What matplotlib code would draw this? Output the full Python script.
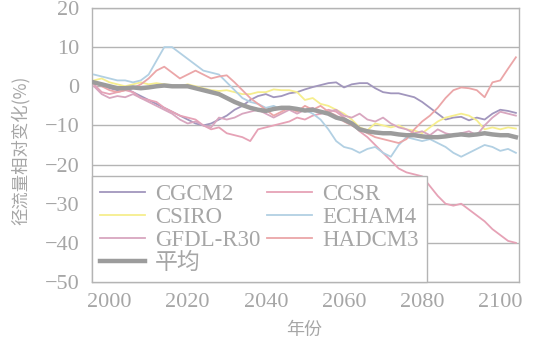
import matplotlib
matplotlib.use("Agg")
import matplotlib.pyplot as plt

plt.rcParams['font.family'] = ['Liberation Serif', 'Noto Sans CJK SC', 'DejaVu Sans']

years = list(range(1996, 2105, 2))

cgcm2 = [1.0, 0.5, -0.5, -1.0, -0.5, -1.5, -2.5, -3.5, -4.5, -5.5, -6.5, -7.5, -8.5, -9.5,
         -10.0, -9.5, -8.5, -7.5, -6.0, -5.0, -3.5, -2.5, -2.0, -2.8, -2.5, -1.8, -1.5, -0.8,
         -0.2, 0.3, 0.8, 1.0, -0.3, 0.5, 0.8, 0.8, -0.5, -1.5, -1.8, -1.8, -2.3, -2.8, -4.0,
         -5.5, -7.0, -8.5, -8.0, -7.8, -8.7, -8.0, -8.5, -7.0, -6.0, -6.3, -6.8]

csiro = [1.5, 2.0, 1.0, 0.5, 0.0, 0.5, 1.0, 0.5, 0.8, 0.5, 0.3, 0.0, 0.5, 0.0,
         -0.5, -1.0, -1.2, -1.0, -1.5, -2.0, -2.0, -1.5, -1.5, -0.8, -1.0, -1.0, -1.5, -3.5,
         -3.0, -4.5, -5.0, -6.0, -7.0, -8.5, -10.5, -11.2, -9.5, -10.0, -10.5, -10.0, -11.0, -11.3, -12.0,
         -10.5, -9.0, -8.0, -7.5, -7.0, -7.5, -8.7, -11.0, -10.5, -11.0, -10.5, -10.8]

gfdl = [0.0, -2.0, -3.0, -2.5, -2.8, -2.0, -3.0, -4.0, -5.0, -6.0, -7.0, -8.5, -9.5, -9.0,
        -10.0, -10.5, -8.0, -8.5, -8.0, -7.0, -6.5, -6.0, -7.0, -8.0, -7.0, -6.0, -7.0, -6.0,
        -5.5, -7.0, -6.5, -6.0, -7.5, -8.0, -7.0, -8.5, -9.0, -8.0, -9.5, -10.5, -11.0, -12.0, -11.5,
        -12.5, -11.0, -12.0, -12.5, -12.0, -11.5, -12.5, -10.0, -8.0, -6.5, -7.0, -7.5]

ccsr = [0.5, -1.5, -2.0, -1.5, -1.0, -1.5, -3.0, -3.5, -4.0, -5.5, -6.5, -7.5, -8.0, -8.5,
        -10.0, -11.0, -10.5, -12.0, -12.5, -13.0, -14.0, -11.0, -10.5, -10.0, -9.5, -9.0, -8.0, -8.5,
        -7.5, -7.0, -6.0, -6.5, -8.0, -9.5, -11.5, -13.0, -15.0, -17.0, -19.0, -21.0, -22.0, -22.5, -23.0,
        -25.5, -28.0, -30.0, -30.5, -30.0, -31.5, -33.0, -34.5, -36.5, -38.0, -39.5, -40.0]

echam4 = [3.0, 2.5, 2.0, 1.5, 1.5, 1.0, 1.5, 3.0, 6.5, 10.0, 10.0, 8.5, 7.0, 5.5,
          4.0, 3.5, 3.0, 1.0, -1.0, -3.0, -4.0, -4.5, -5.5, -5.0, -6.0, -5.5, -5.5, -6.0,
          -7.0, -8.5, -11.0, -14.0, -15.5, -16.0, -17.0, -16.0, -15.5, -17.0, -18.0, -15.0, -13.0, -13.5, -14.0,
          -13.5, -14.5, -15.5, -17.0, -18.0, -17.0, -16.0, -15.0, -15.5, -16.5, -16.0, -17.0]

hadcm3 = [1.0, 0.0, -1.0, -1.5, -1.0, -0.5, 0.5, 2.0, 4.0, 5.0, 3.5, 2.0, 3.0, 4.0,
          3.0, 2.0, 2.5, 2.8, 1.0, -1.0, -3.0, -4.5, -6.0, -7.5, -6.5, -5.5, -6.5, -5.0,
          -6.0, -5.0, -6.5, -7.5, -9.0, -10.0, -11.0, -12.0, -13.0, -13.5, -14.0, -14.5, -13.5, -11.0, -9.0,
          -7.5, -5.5, -3.0, -1.0, -0.3, -0.5, -1.0, -2.8, 1.0, 1.5, 4.5, 7.4]

mean = [1.0, 0.5, 0.0, -0.5, -0.5, -0.3, -0.5, -0.3, 0.0, 0.2, 0.0, 0.0, 0.0, -0.5,
        -1.0, -1.5, -2.0, -3.0, -4.0, -4.8, -5.5, -6.0, -6.3, -5.8, -5.5, -5.5, -5.8, -6.2,
        -6.0, -6.5, -7.0, -8.0, -8.5, -9.5, -11.0, -11.5, -11.8, -12.0, -12.0, -12.3, -12.5, -12.5, -12.8,
        -13.0, -13.0, -12.8, -12.5, -12.3, -12.5, -12.3, -12.0, -12.3, -12.5, -12.5, -13.0]

names = ["CGCM2", "CCSR", "CSIRO", "ECHAM4", "GFDL-R30", "HADCM3", "平均"]
yticks = [20, 10, 0, -10, -20, -30, -40, -50]
xticks = [2000, 2020, 2040, 2060, 2080, 2100]

text_c = "#a6a6a6"
grid_c = "#b4b4b4"

fig = plt.figure(figsize=(5.36, 3.47), dpi=100)
ax = fig.add_axes([0.1716, 0.1873, 0.7967, 0.7897])

styles = {
    "CGCM2": ("#a196bd", 1.3),
    "CCSR": ("#e6a2b6", 1.3),
    "CSIRO": ("#f6ee8e", 1.3),
    "ECHAM4": ("#b2d0e3", 1.3),
    "GFDL-R30": ("#d8a6bf", 1.3),
    "HADCM3": ("#eba6a8", 1.3),
    "平均": ("#9c9c9c", 3.2),
}
data = {"CGCM2": cgcm2, "CCSR": ccsr, "CSIRO": csiro, "ECHAM4": echam4,
        "GFDL-R30": gfdl, "HADCM3": hadcm3, "平均": mean}

lines = {}
for name in names:
    col, lw = styles[name]
    z = 4 if name == "平均" else 3
    lines[name], = ax.plot(years, data[name], color=col, lw=lw, label=name, zorder=z)

ax.set_xlim(1995.5, 2104.8)
ax.set_ylim(-50, 20)
ax.set_yticks(yticks)
ax.set_xticks(xticks)
ax.yaxis.grid(True, color=grid_c, lw=1.0, zorder=1)
ax.set_axisbelow(True)
ax.tick_params(axis='both', length=0, labelsize=16, colors=text_c)
ax.tick_params(axis='y', pad=9)
ax.tick_params(axis='x', pad=8)
for s in ax.spines.values():
    s.set_color(grid_c)
    s.set_linewidth(1.0)

fig.text(20 / 536, 1 - 150 / 347, "径流量相对变化(%)", rotation=90, fontsize=12.5,
         color=text_c, ha='center', va='center',
         family=['Noto Sans CJK SC', 'DejaVu Sans'])
fig.text(304 / 536, 1 - 330 / 347, "年份", fontsize=13, color=text_c,
         ha='center', va='center', family=['Noto Sans CJK SC', 'DejaVu Sans'])

# two columns, filled column by column
order = ["CGCM2", "CSIRO", "GFDL-R30", "平均", "CCSR", "ECHAM4", "HADCM3"]
leg = ax.legend([lines[n] for n in order], order, ncol=2, loc='lower left',
                bbox_to_anchor=(0, 0), borderaxespad=0, fontsize=16.5,
                frameon=True, fancybox=False, handlelength=1.95,
                handletextpad=0.45, columnspacing=0.3, labelspacing=0.08,
                borderpad=0.35)
leg.get_frame().set_edgecolor(grid_c)
leg.get_frame().set_linewidth(1.0)
leg.get_frame().set_alpha(1.0)
leg.set_zorder(5)
for t in leg.get_texts():
    t.set_color(text_c)

fig.savefig("out.png", dpi=100)
